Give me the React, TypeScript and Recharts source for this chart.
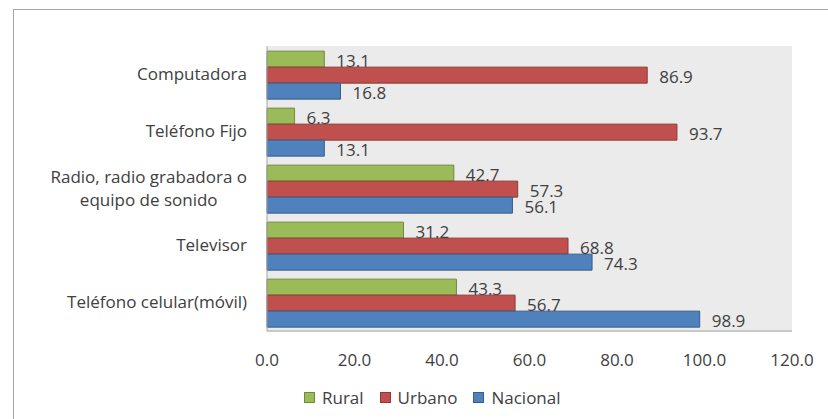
import { Bar, BarChart, LabelList, Legend, XAxis, YAxis } from 'recharts';

const categories = [
  'Computadora',
  'Teléfono Fijo',
  'Radio, radio grabadora o\nequipo de sonido',
  'Televisor',
  'Teléfono celular(móvil)',
];
const rural = [13.1, 6.3, 42.7, 31.2, 43.3];
const urbano = [86.9, 93.7, 57.3, 68.8, 56.7];
const nacional = [16.8, 13.1, 56.1, 74.3, 98.9];
const xTicks = [0, 20, 40, 60, 80, 100, 120];

const FONT = '"Open Sans", sans-serif';
const SIZE = 17;
const TEXT = '#404040';

const series = [
  { key: 'rural', name: 'Rural', fill: '#9BBB59', stroke: '#71893F' },
  { key: 'urbano', name: 'Urbano', fill: '#C0504D', stroke: '#8C3836' },
  { key: 'nacional', name: 'Nacional', fill: '#4F81BD', stroke: '#385D8A' },
];

const data = categories.map((name, i) => ({
  name,
  rural: rural[i],
  urbano: urbano[i],
  nacional: nacional[i],
}));

let ctx: CanvasRenderingContext2D | null = null;
function textWidth(s: string, size: number) {
  if (!ctx) ctx = document.createElement('canvas').getContext('2d');
  if (!ctx) return s.length * size * 0.5;
  ctx.font = `${size}px ${FONT}`;
  return ctx.measureText(s).width;
}

function CategoryTick({ x, y, payload }: any) {
  const lines = String(payload.value).split('\n');
  if (lines.length === 1) {
    return (
      <text x={x} y={y} dy="0.35em" textAnchor="end" fill={TEXT} fontSize={SIZE} fontFamily={FONT}>
        {lines[0]}
      </text>
    );
  }
  const w = Math.max(...lines.map((l) => textWidth(l, SIZE)));
  const lh = 23;
  const top = y - ((lines.length - 1) * lh) / 2;
  return (
    <text x={x - w / 2} y={top} textAnchor="middle" fill={TEXT} fontSize={SIZE} fontFamily={FONT}>
      {lines.map((l, i) => (
        <tspan key={i} x={x - w / 2} y={top + i * lh} dy="0.35em">
          {l}
        </tspan>
      ))}
    </text>
  );
}

function ValueTick({ x, y, payload }: any) {
  return (
    <text x={x} y={y + 21} dy="0.35em" textAnchor="middle" fill={TEXT} fontSize={SIZE} fontFamily={FONT}>
      {Number(payload.value).toFixed(1)}
    </text>
  );
}

// data label a bit below the bar's middle, like the original
function BarLabel({ x, y, width, height, value }: any) {
  return (
    <text
      x={x + width + 12}
      y={y + height / 2 + 2}
      dy="0.35em"
      textAnchor="start"
      fill={TEXT}
      fontSize={SIZE}
      fontFamily={FONT}
    >
      {Number(value).toFixed(1)}
    </text>
  );
}

function LegendContent() {
  return (
    <div style={{ display: 'flex', alignItems: 'center', fontFamily: FONT, fontSize: SIZE, color: TEXT }}>
      {series.map((s) => (
        <div key={s.key} style={{ display: 'flex', alignItems: 'center', marginRight: 16 }}>
          <span
            style={{
              width: 9,
              height: 9,
              background: s.fill,
              border: `1px solid ${s.stroke}`,
              marginRight: 7,
              display: 'inline-block',
            }}
          />
          <span>{s.name}</span>
        </div>
      ))}
    </div>
  );
}

export default function App() {
  return (
    <div style={{ position: 'absolute', left: 0, top: 0, width: 828, height: 419, background: '#fff', overflow: 'hidden' }}>
      <div
        style={{
          position: 'absolute',
          left: 13,
          top: 9,
          width: 830,
          height: 430,
          border: '1px solid #A6A6A6',
          boxSizing: 'border-box',
        }}
      />
      <BarChart
        width={828}
        height={419}
        data={data}
        layout="vertical"
        margin={{ top: 46, right: 36, left: 0, bottom: 35 }}
        barCategoryGap="9%"
        barGap={0}
        style={{ position: 'absolute', left: 0, top: 0 }}
      >
        <rect x={267} y={46} width={525} height={286} fill="#EBEBEB" />
        <XAxis
          type="number"
          domain={[0, 120]}
          ticks={xTicks}
          height={30}
          tickLine={false}
          axisLine={{ stroke: '#A6A6A6' }}
          tick={<ValueTick />}
        />
        <YAxis
          type="category"
          dataKey="name"
          width={267}
          tickLine={false}
          tickSize={0}
          tickMargin={20}
          axisLine={{ stroke: '#A6A6A6' }}
          tick={<CategoryTick />}
        />
        <Legend
          content={<LegendContent />}
          wrapperStyle={{ position: 'absolute', left: 304, top: 386, width: 'auto' }}
        />
        {series.map((s) => (
          <Bar key={s.key} dataKey={s.key} name={s.name} fill={s.fill} stroke={s.stroke} strokeWidth={1} isAnimationActive={false}>
            <LabelList dataKey={s.key} content={<BarLabel />} />
          </Bar>
        ))}
      </BarChart>
    </div>
  );
}
